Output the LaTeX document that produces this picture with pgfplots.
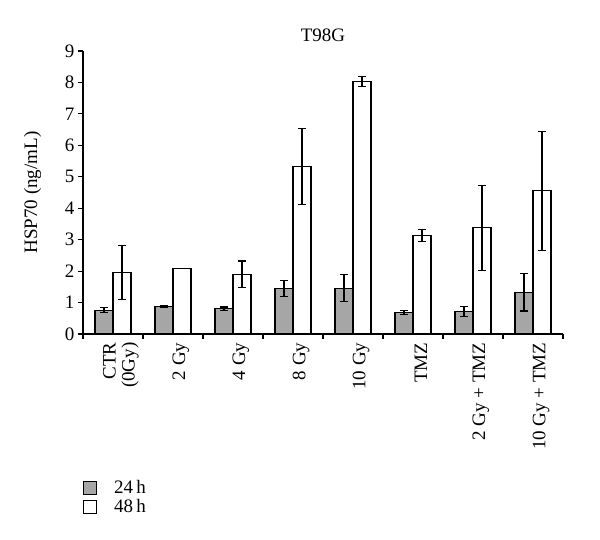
\documentclass[border=0pt]{standalone}
\usepackage{fontspec}
\setmainfont{Liberation Serif}
\usepackage{pgfplots}
\pgfplotsset{compat=1.18}
\definecolor{barg}{RGB}{166,166,166}
\newcommand{\fs}{\fontsize{19}{19}\selectfont}
\begin{document}
\begin{tikzpicture}
\useasboundingbox (-83pt,-206pt) rectangle (517pt,334pt);
\begin{axis}[
 at={(0,0)}, anchor=south west,
 width=480pt, height=283pt, scale only axis,
 xmin=-0.5, xmax=7.5, ymin=0, ymax=9,
 axis x line*=bottom, axis y line*=left,
 axis line style={line width=1.1pt},
 ytick={0,...,9},
 y tick style={line width=1.1pt, black},
 tick align=outside, major tick length=5pt,
 xtick={0,...,7},
 xticklabels={{CTR\\(0Gy)}, 2 Gy, 4 Gy, 8 Gy, 10 Gy, TMZ, 2 Gy + TMZ, 10 Gy + TMZ},
 x tick style={draw=none},
 extra x ticks={-0.5,0.5,...,7.5},
 extra x tick labels={},
 extra x tick style={x tick style={draw=black, line width=1.1pt}},
 xticklabel style={rotate=90, anchor=east, align=right, font=\fs, yshift=-8pt},
 yticklabel style={font=\fs},
 /pgf/number format/assume math mode=true,
 title={T98G}, title style={font=\fs},
 ylabel={HSP70 (ng/mL)}, ylabel style={font=\fs, at={(axis description cs:-0.105,0.5)}, anchor=center},
 ybar, bar width=18pt,
 legend style={at={(axis description cs:0,-0.51)}, anchor=north west, draw=none, font=\fs, inner xsep=0pt, inner ysep=0pt, row sep=0pt, cells={anchor=west}},
 legend cell align=left,
]
\addplot[fill=barg, draw=black, line width=1.1pt, bar shift=-9pt,
  legend image code/.code={\draw[fill=barg, draw=black, line width=0.9pt] (0pt,-6.5pt) rectangle (13pt,6.5pt); \path (28pt,0pt);},
  error bars/.cd, y dir=both, y explicit,
  error bar style={line width=1.1pt, black},
  error mark options={rotate=90, mark size=4pt, line width=1.1pt, black}]
coordinates {
(0,0.76) +- (0,0.07)
(1,0.88) +- (0,0.03)
(2,0.80) +- (0,0.06)
(3,1.45) +- (0,0.26)
(4,1.46) +- (0,0.44)
(5,0.69) +- (0,0.07)
(6,0.72) +- (0,0.16)
(7,1.32) +- (0,0.59)
};
\addlegendentry{24\,h}
\addplot[fill=white, draw=black, line width=1.1pt, bar shift=9pt,
  legend image code/.code={\draw[fill=white, draw=black, line width=0.9pt] (0pt,-6.5pt) rectangle (13pt,6.5pt); \path (28pt,0pt);},
  error bars/.cd, y dir=both, y explicit,
  error bar style={line width=1.1pt, black},
  error mark options={rotate=90, mark size=4pt, line width=1.1pt, black}]
coordinates {
(0,1.96) +- (0,0.85)
(1,2.08) +- (0,0)
(2,1.90) +- (0,0.42)
(3,5.33) +- (0,1.20)
(4,8.03) +- (0,0.17)
(5,3.13) +- (0,0.20)
(6,3.38) +- (0,1.35)
(7,4.55) +- (0,1.90)
};
\addlegendentry{48\,h}
\end{axis}
\end{tikzpicture}
\end{document}
